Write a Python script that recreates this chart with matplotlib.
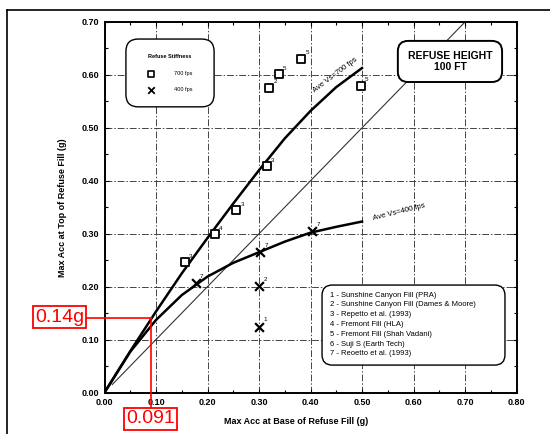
import matplotlib
matplotlib.use('Agg')
import matplotlib.pyplot as plt
from matplotlib.ticker import MultipleLocator, FormatStrFormatter
from matplotlib.patches import FancyBboxPatch
from matplotlib.lines import Line2D

plt.rcParams['font.family'] = ['Liberation Sans', 'DejaVu Sans']

# ---------- data ----------
# 700 fps refuse (squares) and their source numbers
sq_x = [0.156, 0.214, 0.256, 0.315, 0.320, 0.338, 0.382, 0.498]
sq_y = [0.247, 0.300, 0.345, 0.427, 0.576, 0.602, 0.631, 0.580]
sq_lab = ['3', '4', '3', '3', '2', '5', '5', '5']

# 400 fps refuse (crosses)
cx_x = [0.177, 0.302, 0.300, 0.300, 0.403]
cx_y = [0.206, 0.265, 0.201, 0.124, 0.305]
cx_lab = ['7', '7', '2', '1', '7']

# average curves
c700_x = [0.0, 0.05, 0.10, 0.15, 0.20, 0.25, 0.30, 0.35, 0.40, 0.45, 0.50]
c700_y = [0.0, 0.078, 0.153, 0.225, 0.292, 0.357, 0.420, 0.480, 0.532, 0.577, 0.613]
c400_x = [0.0, 0.05, 0.10, 0.15, 0.20, 0.25, 0.30, 0.35, 0.40, 0.45, 0.50]
c400_y = [0.0, 0.077, 0.137, 0.184, 0.219, 0.245, 0.265, 0.285, 0.302, 0.313, 0.323]

# 1:1 line
one_x = [0.015, 0.70]
one_y = [0.015, 0.70]

# red read-off
read_x = 0.091
read_y = 0.14

sources = ['1 - Sunshine Canyon Fill (PRA)',
           '2 - Sunshine Canyon Fill (Dames & Moore)',
           '3 - Repetto et al. (1993)',
           '4 - Fremont Fill (HLA)',
           '5 - Fremont Fill (Shah Vadani)',
           '6 - Suji S (Earth Tech)',
           '7 - Reoetto et al. (1993)']

fig = plt.figure(figsize=(5.5, 4.34), dpi=100)
ax = fig.add_axes([104.5 / 550, 1 - 392.5 / 434, 412 / 550, 370.5 / 434])

ax.set_xlim(0, 0.8)
ax.set_ylim(0, 0.7)
ax.xaxis.set_major_locator(MultipleLocator(0.1))
ax.yaxis.set_major_locator(MultipleLocator(0.1))
ax.xaxis.set_minor_locator(MultipleLocator(0.05))
ax.yaxis.set_minor_locator(MultipleLocator(0.05))
ax.xaxis.set_major_formatter(FormatStrFormatter('%.2f'))
ax.yaxis.set_major_formatter(FormatStrFormatter('%.2f'))
ax.tick_params(which='both', direction='in', top=True, right=True, width=0.8)
ax.tick_params(which='major', length=3, labelsize=6.5, pad=4)
ax.tick_params(which='minor', length=2.5)
for lab in ax.get_xticklabels() + ax.get_yticklabels():
    lab.set_fontweight('bold')
for s in ax.spines.values():
    s.set_linewidth(1.4)
ax.grid(True, which='major', color='#444444', lw=0.7, linestyle=(0, (7, 2, 1.5, 2)))

ax.set_xlabel('Max Acc at Base of Refuse Fill (g)', fontsize=6.5, fontweight='bold')
ax.set_ylabel('Max Acc at Top of Refuse Fill (g)', fontsize=6.5, fontweight='bold')
ax.xaxis.set_label_coords(0.465, -0.066)
ax.yaxis.set_label_coords(-0.09, 0.5)

# curves
ax.plot(one_x, one_y, color='#333333', lw=0.8, zorder=2)
ax.plot(c700_x, c700_y, color='black', lw=1.8, zorder=3)
ax.plot(c400_x, c400_y, color='black', lw=1.8, zorder=3)

ax.scatter(sq_x, sq_y, marker='s', s=28, facecolor='white', edgecolor='black', lw=1.3, zorder=4)
ax.scatter(cx_x, cx_y, marker='x', s=40, color='black', lw=1.6, zorder=4)
for x, y, t in zip(sq_x, sq_y, sq_lab):
    ax.annotate(t, (x, y), xytext=(3, 3), textcoords='offset points', fontsize=4.5, zorder=5)
for x, y, t in zip(cx_x, cx_y, cx_lab):
    ax.annotate(t, (x, y), xytext=(3, 4), textcoords='offset points', fontsize=4.5, zorder=5)

ax.text(0.452, 0.594, 'Ave Vs=700 fps', fontsize=5.5, rotation=37, rotation_mode='anchor',
        ha='center', va='bottom')
ax.text(0.522, 0.325, 'Ave Vs=400 fps', fontsize=5.5, rotation=14, rotation_mode='anchor',
        ha='left', va='baseline')

# stiffness key
asp = 412 / 370.5
ax.add_patch(FancyBboxPatch((0.052, 0.771), 0.214, 0.183, boxstyle='round,pad=0,rounding_size=0.03',
                            mutation_aspect=asp, transform=ax.transAxes, fc='white', ec='black',
                            lw=1.0, zorder=6))
ax.text(0.159, 0.906, 'Refuse Stiffness', transform=ax.transAxes, fontsize=4, fontweight='bold',
        ha='center', va='center', zorder=7)
ax.scatter([0.113], [0.860], marker='s', s=16, facecolor='white', edgecolor='black', lw=1.2,
           transform=ax.transAxes, zorder=7)
ax.scatter([0.113], [0.817], marker='x', s=22, color='black', lw=1.3, transform=ax.transAxes, zorder=7)
ax.text(0.168, 0.860, '700 fps', transform=ax.transAxes, fontsize=4, va='center', zorder=7)
ax.text(0.168, 0.817, '400 fps', transform=ax.transAxes, fontsize=4, va='center', zorder=7)

# refuse height box
ax.add_patch(FancyBboxPatch((0.712, 0.838), 0.253, 0.111, boxstyle='round,pad=0,rounding_size=0.025',
                            mutation_aspect=asp, transform=ax.transAxes, fc='white', ec='black',
                            lw=1.4, zorder=6))
ax.text(0.8385, 0.893, 'REFUSE HEIGHT\n100 FT', transform=ax.transAxes, fontsize=7.5,
        fontweight='bold', ha='center', va='center', linespacing=1.1, zorder=7)

# source list
ax.add_patch(FancyBboxPatch((0.528, 0.074), 0.444, 0.216, boxstyle='round,pad=0,rounding_size=0.025',
                            mutation_aspect=asp, transform=ax.transAxes, fc='white', ec='black',
                            lw=1.0, zorder=6))
for i, s in enumerate(sources):
    ax.text(0.547, 0.263 - i * 0.0265, s, transform=ax.transAxes, fontsize=5.5,
            va='center', zorder=7)

# red read-off lines and boxes
ax.plot([-0.036, read_x], [read_y, read_y], color='red', lw=1.2, clip_on=False, zorder=8)
ax.plot([read_x, read_x], [read_y, -0.027], color='red', lw=1.2, clip_on=False, zorder=8)
fig.text(59.5 / 550, 1 - 317 / 434, '0.14g', color='red', fontsize=14, ha='center', va='center',
         bbox=dict(boxstyle='square,pad=0.12', fc='white', ec='red', lw=1.3))
fig.text(150.3 / 550, 1 - 418.7 / 434, '0.091', color='red', fontsize=14, ha='center', va='center',
         bbox=dict(boxstyle='square,pad=0.12', fc='white', ec='red', lw=1.3))

# page border from the scan
fig.add_artist(Line2D([7 / 550, 7 / 550], [0, 1 - 10 / 434], color='black', lw=1.2))
fig.add_artist(Line2D([7 / 550, 1], [1 - 10 / 434, 1 - 10 / 434], color='black', lw=1.2))

fig.savefig('out.png', dpi=100)
